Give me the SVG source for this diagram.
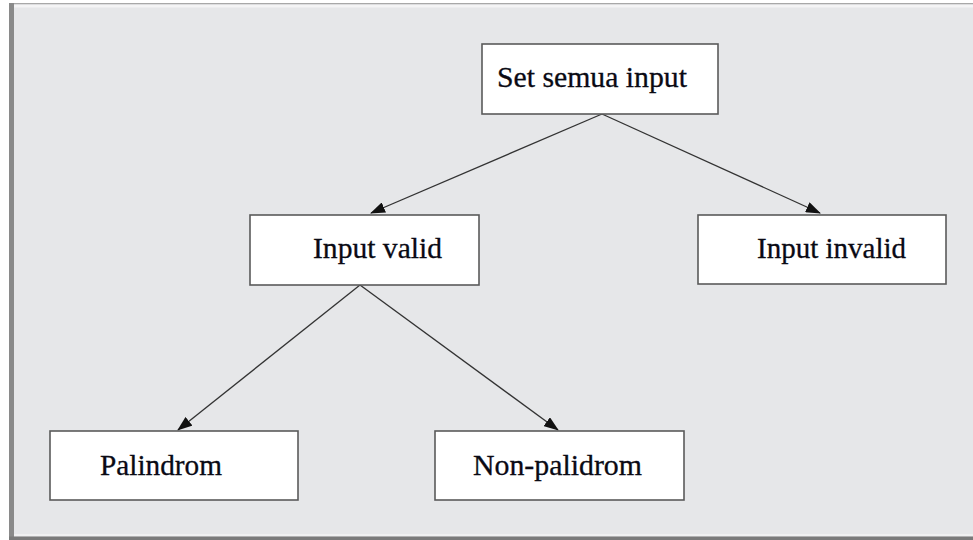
<svg xmlns="http://www.w3.org/2000/svg" width="973" height="540" viewBox="0 0 973 540">
<style>
.box{fill:#fff;stroke:#5a5a5a;stroke-width:1.6}
.lbl{font-family:"Liberation Serif","Times New Roman",serif;font-size:29px;fill:#0a0a14;stroke:#0a0a14;stroke-width:0.3}
.con{stroke:#333;stroke-width:1.3;fill:none;marker-end:url(#ah)}
</style>
<defs>
<marker id="ah" viewBox="0 0 15 11" refX="14" refY="5.5" markerWidth="15" markerHeight="11" markerUnits="userSpaceOnUse" orient="auto">
<path d="M0,0 L15,5.5 L0,11 Z" fill="#111"/>
</marker>
</defs>
<rect x="0" y="0" width="973" height="540" fill="#fff"/>
<rect x="12" y="3" width="961" height="536" fill="#e6e7e9"/>
<rect x="12" y="3" width="961" height="1.5" fill="#a8a8a8"/>
<rect x="14" y="4.5" width="959" height="3" fill="#f4f4f5"/>
<rect x="9" y="3" width="5" height="536" fill="#8a8a8a"/>
<rect x="14" y="534" width="959" height="2" fill="#f0f0f1"/>
<rect x="9" y="536.5" width="964" height="3.5" fill="#7a7a7a"/>
<g id="connectors">
<line class="con" x1="602" y1="114" x2="371" y2="213"/>
<line class="con" x1="602" y1="114" x2="820" y2="213"/>
<line class="con" x1="360" y1="285" x2="178" y2="430"/>
<line class="con" x1="360" y1="285" x2="558" y2="430"/>
</g>
<g id="n-set">
<rect class="box" x="482" y="44" width="236" height="70"/>
<text class="lbl" x="497" y="87" textLength="190" lengthAdjust="spacingAndGlyphs">Set semua input</text>
</g>
<g id="n-valid">
<rect class="box" x="250" y="215" width="229" height="70"/>
<text class="lbl" x="313" y="258" textLength="129" lengthAdjust="spacingAndGlyphs">Input valid</text>
</g>
<g id="n-invalid">
<rect class="box" x="698" y="215" width="248" height="69"/>
<text class="lbl" x="757" y="258" textLength="149" lengthAdjust="spacingAndGlyphs">Input invalid</text>
</g>
<g id="n-palindrom">
<rect class="box" x="50" y="431" width="248" height="69"/>
<text class="lbl" x="100" y="475" textLength="122" lengthAdjust="spacingAndGlyphs">Palindrom</text>
</g>
<g id="n-nonpalidrom">
<rect class="box" x="435" y="431" width="249" height="69"/>
<text class="lbl" x="473" y="475" textLength="169" lengthAdjust="spacingAndGlyphs">Non-palidrom</text>
</g>
</svg>
